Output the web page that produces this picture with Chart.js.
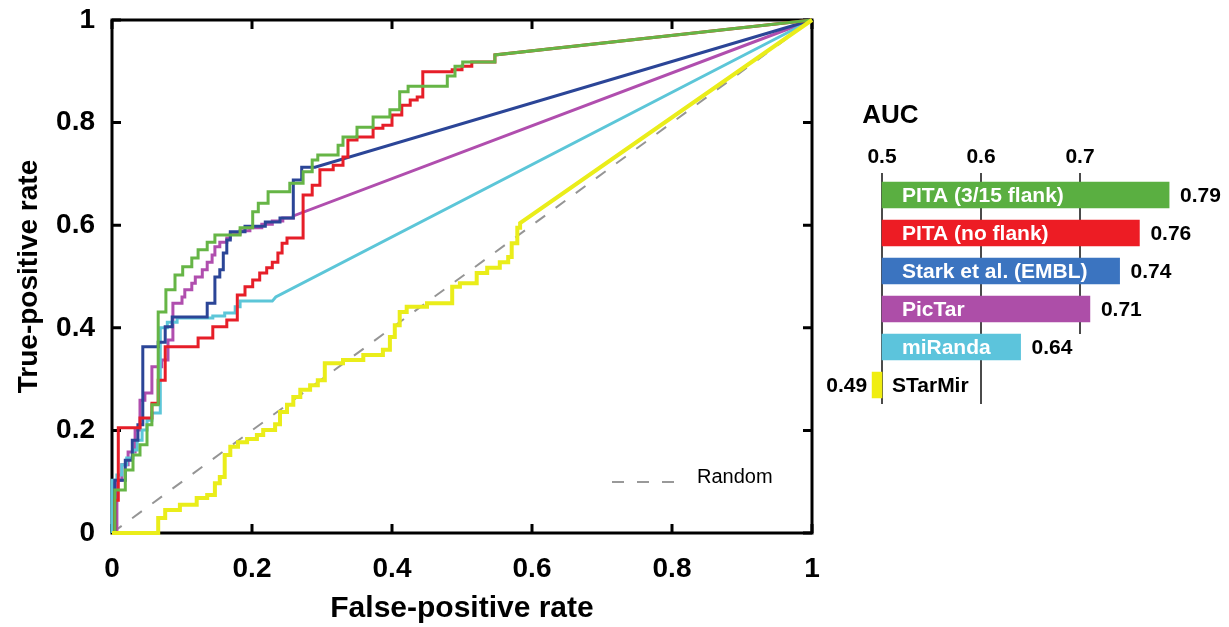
<!DOCTYPE html>
<html><head><meta charset="utf-8">
<script src="https://cdn.jsdelivr.net/npm/chart.js@4.4.0/dist/chart.umd.min.js"></script>
<style>
html,body{margin:0;padding:0;background:#fff;}
#wrap{position:relative;width:1229px;height:627px;}
canvas{position:absolute;left:0;top:0;}
</style></head><body>
<div id="wrap"><canvas id="roc" width="1229" height="627"></canvas><canvas id="auc" width="1229" height="627"></canvas></div>
<script>
const FONT = '"Liberation Sans", Arial, Helvetica, sans-serif';

// ---- data ----
const rocTicks = [0, 0.2, 0.4, 0.6, 0.8, 1];
const methods = ['PITA (3/15 flank)', 'PITA (no flank)', 'Stark et al. (EMBL)', 'PicTar', 'miRanda', 'STarMir'];
const aucValues = [0.79, 0.76, 0.74, 0.71, 0.64, 0.49];
const aucTicks = [0.5, 0.6, 0.7];
const lineColors = ['#66b546', '#e61e28', '#2b4597', '#b04eae', '#5cc6d8', '#eaed1a'];
const barColors = ['#5aaf41', '#ed1c24', '#3b74c0', '#ad4ea8', '#5cc4dc', '#f0ee10'];

const pitaFlank = [[0,0],[0.004,0],[0.004,0.084],[0.019,0.084],[0.019,0.123],[0.03,0.123],[0.03,0.152],[0.04,0.152],[0.04,0.172],[0.05,0.172],[0.05,0.211],[0.057,0.211],[0.057,0.25],[0.066,0.25],[0.066,0.431],[0.077,0.431],[0.077,0.474],[0.09,0.474],[0.09,0.503],[0.101,0.503],[0.101,0.519],[0.114,0.519],[0.114,0.536],[0.123,0.536],[0.123,0.552],[0.136,0.552],[0.136,0.567],[0.147,0.567],[0.147,0.581],[0.183,0.581],[0.183,0.595],[0.201,0.595],[0.201,0.626],[0.209,0.626],[0.209,0.643],[0.223,0.643],[0.223,0.665],[0.254,0.665],[0.254,0.682],[0.273,0.682],[0.273,0.704],[0.286,0.704],[0.286,0.727],[0.294,0.727],[0.294,0.737],[0.323,0.737],[0.323,0.756],[0.33,0.756],[0.33,0.772],[0.35,0.772],[0.35,0.791],[0.373,0.791],[0.373,0.811],[0.397,0.811],[0.397,0.825],[0.411,0.825],[0.411,0.86],[0.423,0.86],[0.423,0.871],[0.479,0.871],[0.479,0.891],[0.49,0.891],[0.49,0.91],[0.501,0.91],[0.501,0.918],[0.547,0.918],[0.547,0.932],[1,1]];
const pitaNoFlank = [[0,0],[0.004,0],[0.004,0.064],[0.009,0.064],[0.009,0.205],[0.04,0.205],[0.04,0.224],[0.057,0.224],[0.057,0.253],[0.066,0.253],[0.066,0.298],[0.076,0.298],[0.076,0.363],[0.123,0.363],[0.123,0.38],[0.144,0.38],[0.144,0.402],[0.164,0.402],[0.164,0.415],[0.179,0.415],[0.179,0.464],[0.19,0.464],[0.19,0.48],[0.201,0.48],[0.201,0.493],[0.211,0.493],[0.211,0.507],[0.221,0.507],[0.221,0.517],[0.229,0.517],[0.229,0.528],[0.237,0.528],[0.237,0.546],[0.243,0.546],[0.243,0.565],[0.25,0.565],[0.25,0.575],[0.273,0.575],[0.273,0.659],[0.286,0.659],[0.286,0.678],[0.297,0.678],[0.297,0.708],[0.316,0.708],[0.316,0.717],[0.33,0.717],[0.33,0.733],[0.337,0.733],[0.337,0.766],[0.35,0.766],[0.35,0.772],[0.373,0.772],[0.373,0.789],[0.387,0.789],[0.387,0.795],[0.4,0.795],[0.4,0.815],[0.414,0.815],[0.414,0.834],[0.426,0.834],[0.426,0.844],[0.436,0.844],[0.436,0.85],[0.444,0.85],[0.444,0.899],[0.486,0.899],[0.486,0.903],[0.5,0.903],[0.5,0.91],[0.514,0.91],[0.514,0.918],[0.547,0.918],[0.547,0.932],[1,1]];
const stark = [[0,0],[0.004,0],[0.004,0.103],[0.019,0.103],[0.019,0.142],[0.029,0.142],[0.029,0.181],[0.037,0.181],[0.037,0.211],[0.044,0.211],[0.044,0.363],[0.066,0.363],[0.066,0.372],[0.076,0.372],[0.076,0.402],[0.086,0.402],[0.086,0.421],[0.136,0.421],[0.136,0.448],[0.147,0.448],[0.147,0.499],[0.154,0.499],[0.154,0.513],[0.159,0.513],[0.159,0.546],[0.164,0.546],[0.164,0.571],[0.169,0.571],[0.169,0.587],[0.19,0.587],[0.19,0.598],[0.219,0.598],[0.219,0.606],[0.24,0.606],[0.24,0.614],[0.259,0.614],[0.259,0.688],[0.271,0.688],[0.271,0.713],[0.29,0.713],[1,1]];
const picTar = [[0,0],[0.007,0],[0.007,0.103],[0.014,0.103],[0.014,0.133],[0.023,0.133],[0.023,0.158],[0.033,0.158],[0.033,0.201],[0.04,0.201],[0.04,0.259],[0.047,0.259],[0.047,0.273],[0.057,0.273],[0.057,0.324],[0.071,0.324],[0.071,0.337],[0.08,0.337],[0.08,0.376],[0.087,0.376],[0.087,0.448],[0.1,0.448],[0.1,0.46],[0.104,0.46],[0.104,0.474],[0.114,0.474],[0.114,0.487],[0.119,0.487],[0.119,0.499],[0.129,0.499],[0.129,0.513],[0.136,0.513],[0.136,0.528],[0.143,0.528],[0.143,0.542],[0.147,0.542],[0.147,0.558],[0.154,0.558],[0.154,0.567],[0.164,0.567],[0.164,0.575],[0.169,0.575],[0.169,0.583],[0.183,0.583],[0.183,0.589],[0.197,0.589],[0.197,0.595],[0.214,0.595],[0.214,0.602],[0.229,0.602],[0.229,0.608],[0.244,0.608],[0.244,0.614],[0.259,0.614],[0.259,0.618],[1,1]];
const miRanda = [[0,0],[0,0.103],[0.007,0.103],[0.007,0.113],[0.014,0.113],[0.014,0.133],[0.021,0.133],[0.021,0.146],[0.03,0.146],[0.03,0.162],[0.036,0.162],[0.036,0.181],[0.043,0.181],[0.043,0.201],[0.05,0.201],[0.05,0.22],[0.057,0.22],[0.057,0.234],[0.069,0.234],[0.069,0.4],[0.079,0.4],[0.079,0.411],[0.093,0.411],[0.093,0.419],[0.144,0.419],[0.144,0.423],[0.161,0.423],[0.161,0.429],[0.176,0.429],[0.176,0.441],[0.183,0.441],[0.183,0.452],[0.229,0.452],[0.234,0.46],[1,1]];
const starMir = [[0,0],[0.066,0],[0.066,0.029],[0.076,0.029],[0.076,0.045],[0.097,0.045],[0.097,0.055],[0.121,0.055],[0.121,0.068],[0.136,0.068],[0.136,0.074],[0.147,0.074],[0.147,0.097],[0.154,0.097],[0.154,0.109],[0.161,0.109],[0.161,0.152],[0.169,0.152],[0.169,0.168],[0.18,0.168],[0.18,0.177],[0.193,0.177],[0.193,0.183],[0.207,0.183],[0.207,0.191],[0.216,0.191],[0.216,0.201],[0.233,0.201],[0.233,0.212],[0.24,0.212],[0.24,0.236],[0.25,0.236],[0.25,0.25],[0.259,0.25],[0.259,0.265],[0.269,0.265],[0.269,0.279],[0.283,0.279],[0.283,0.288],[0.294,0.288],[0.294,0.298],[0.304,0.298],[0.304,0.331],[0.33,0.331],[0.33,0.337],[0.359,0.337],[0.359,0.347],[0.387,0.347],[0.387,0.357],[0.397,0.357],[0.397,0.382],[0.404,0.382],[0.404,0.405],[0.411,0.405],[0.411,0.431],[0.421,0.431],[0.421,0.441],[0.45,0.441],[0.45,0.448],[0.486,0.448],[0.486,0.48],[0.497,0.48],[0.497,0.487],[0.521,0.487],[0.521,0.507],[0.536,0.507],[0.536,0.517],[0.554,0.517],[0.554,0.528],[0.566,0.528],[0.566,0.538],[0.571,0.538],[0.571,0.565],[0.579,0.565],[0.579,0.595],[0.583,0.595],[0.583,0.604],[1,1]];
const randomLine = [[0,0],[1,1]];

const toPts = arr => arr.map(([x, y]) => ({x, y}));
const curve = (label, pts, color, width) => ({
  label, data: toPts(pts), showLine: true, borderColor: color, backgroundColor: color,
  borderWidth: width, pointRadius: 0, tension: 0, fill: false, clip: 5
});

// ---- ROC frame / ticks / legend ----
const rocDecor = {
  id: 'rocDecor',
  beforeDatasetsDraw(chart) {
    const {ctx, chartArea: a, scales: {x, y}} = chart;
    ctx.save();
    ctx.strokeStyle = '#000';
    ctx.lineWidth = 3;
    ctx.strokeRect(a.left, a.top, a.right - a.left, a.bottom - a.top);
    const L = 9;
    ctx.beginPath();
    rocTicks.forEach(v => {
      const px = x.getPixelForValue(v);
      ctx.moveTo(px, a.bottom); ctx.lineTo(px, a.bottom - L);
      ctx.moveTo(px, a.top); ctx.lineTo(px, a.top + L);
      const py = y.getPixelForValue(v);
      ctx.moveTo(a.left, py); ctx.lineTo(a.left + L, py);
      ctx.moveTo(a.right, py); ctx.lineTo(a.right - L, py);
    });
    ctx.stroke();
    ctx.restore();
  },
  afterDraw(chart) {
    const {ctx, chartArea: a} = chart;
    ctx.save();
    const lx = a.right - 200, ly = a.bottom - 51;
    ctx.strokeStyle = '#999';
    ctx.lineWidth = 2;
    ctx.setLineDash([12, 13]);
    ctx.beginPath(); ctx.moveTo(lx, ly); ctx.lineTo(lx + 66, ly); ctx.stroke();
    ctx.setLineDash([]);
    ctx.fillStyle = '#000';
    ctx.font = '20px ' + FONT;
    ctx.textAlign = 'left';
    ctx.textBaseline = 'middle';
    ctx.fillText('Random', lx + 85, ly - 5);
    ctx.restore();
  }
};

const tickLabel = v => (v === 0 ? '0' : v === 1 ? '1' : v.toFixed(1));
const noPad = s => { s.paddingTop = 0; s.paddingBottom = 0; s.paddingLeft = 0; s.paddingRight = 0; };

new Chart(document.getElementById('roc'), {
  type: 'scatter',
  data: {
    datasets: [
      curve(methods[5], starMir, lineColors[5], 4),
      curve(methods[0], pitaFlank, lineColors[0], 3),
      curve(methods[1], pitaNoFlank, lineColors[1], 3),
      curve(methods[2], stark, lineColors[2], 3),
      curve(methods[4], miRanda, lineColors[4], 3),
      curve(methods[3], picTar, lineColors[3], 3),
      Object.assign(curve('Random', randomLine, '#959595', 2), {borderDash: [12, 13]})
    ]
  },
  options: {
    responsive: false,
    animation: false,
    layout: {padding: {left: 0, top: 20, right: 417, bottom: 0}},
    plugins: {legend: {display: false}, tooltip: {enabled: false}},
    scales: {
      x: {
        type: 'linear', min: 0, max: 1,
        afterBuildTicks: s => { s.ticks = rocTicks.map(v => ({value: v})); },
        afterFit: s => { s.height = 94; noPad(s); },
        grid: {display: false, drawTicks: false}, border: {display: false},
        ticks: {padding: 19, color: '#000', font: {family: FONT, size: 28, weight: 'bold'}, callback: tickLabel, maxRotation: 0},
        title: {display: true, text: 'False-positive rate', color: '#000', font: {family: FONT, size: 30, weight: 'bold'}, padding: {top: 0, bottom: 0}}
      },
      y: {
        type: 'linear', min: 0, max: 1,
        afterBuildTicks: s => { s.ticks = rocTicks.map(v => ({value: v})); },
        afterFit: s => { s.width = 112; noPad(s); },
        grid: {display: false, drawTicks: false}, border: {display: false},
        ticks: {padding: 17, color: '#000', font: {family: FONT, size: 28, weight: 'bold'}, callback: tickLabel},
        title: {display: true, text: 'True-positive rate', color: '#000', font: {family: FONT, size: 28, weight: 'bold'}, padding: {top: 12, bottom: 0}}
      }
    }
  },
  plugins: [rocDecor]
});

// ---- AUC bars ----
const gridStopBefore = {0.7: 4};
const aucDecor = {
  id: 'aucDecor',
  beforeDatasetsDraw(chart) {
    const {ctx, chartArea: a, scales: {x, y}} = chart;
    ctx.save();
    ctx.strokeStyle = '#111';
    ctx.lineWidth = 1.5;
    ctx.beginPath();
    aucTicks.forEach(v => {
      const px = x.getPixelForValue(v);
      const stop = gridStopBefore[v];
      const bottom = stop !== undefined ? y.getPixelForValue(stop) - 13 : a.bottom;
      ctx.moveTo(px, a.top - 3); ctx.lineTo(px, bottom);
    });
    ctx.stroke();
    ctx.restore();
  },
  afterDatasetsDraw(chart) {
    const {ctx, scales: {x, y}} = chart;
    ctx.save();
    ctx.font = 'bold 21px ' + FONT;
    ctx.textBaseline = 'middle';
    const base = x.getPixelForValue(0.5);
    aucValues.forEach((v, i) => {
      const cy = y.getPixelForValue(i) + 1;
      const end = x.getPixelForValue(v);
      if (v >= 0.5) {
        ctx.fillStyle = '#fff';
        ctx.textAlign = 'left';
        ctx.fillText(methods[i], base + 20, cy);
        ctx.fillStyle = '#000';
        ctx.fillText(v.toFixed(2), end + 11, cy);
      } else {
        ctx.fillStyle = '#000';
        ctx.textAlign = 'left';
        ctx.fillText(methods[i], base + 10, cy);
        ctx.textAlign = 'right';
        ctx.fillText(v.toFixed(2), end - 5, cy);
      }
    });
    ctx.restore();
  }
};

new Chart(document.getElementById('auc'), {
  type: 'bar',
  data: {
    labels: methods,
    datasets: [{
      data: aucValues.map(v => [0.5, v]),
      backgroundColor: barColors,
      borderWidth: 0,
      barThickness: 26
    }]
  },
  options: {
    indexAxis: 'y',
    responsive: false,
    animation: false,
    layout: {padding: {left: 862.2, right: 50, top: 95, bottom: 223}},
    plugins: {legend: {display: false}, tooltip: {enabled: false}},
    scales: {
      x: {
        type: 'linear', position: 'top', min: 0.48, max: 0.8,
        afterBuildTicks: s => { s.ticks = aucTicks.map(v => ({value: v})); },
        afterFit: s => { s.height = 81; noPad(s); },
        grid: {display: false, drawTicks: false}, border: {display: false},
        ticks: {padding: 6, color: '#000', font: {family: FONT, size: 21, weight: 'bold'}, callback: v => v.toFixed(1), maxRotation: 0},
        title: {display: true, text: 'AUC', align: 'start', color: '#000', font: {family: FONT, size: 26, weight: 'bold'}, padding: {top: 5, bottom: 0}}
      },
      y: {display: false}
    }
  },
  plugins: [aucDecor]
});
</script>
</body></html>
